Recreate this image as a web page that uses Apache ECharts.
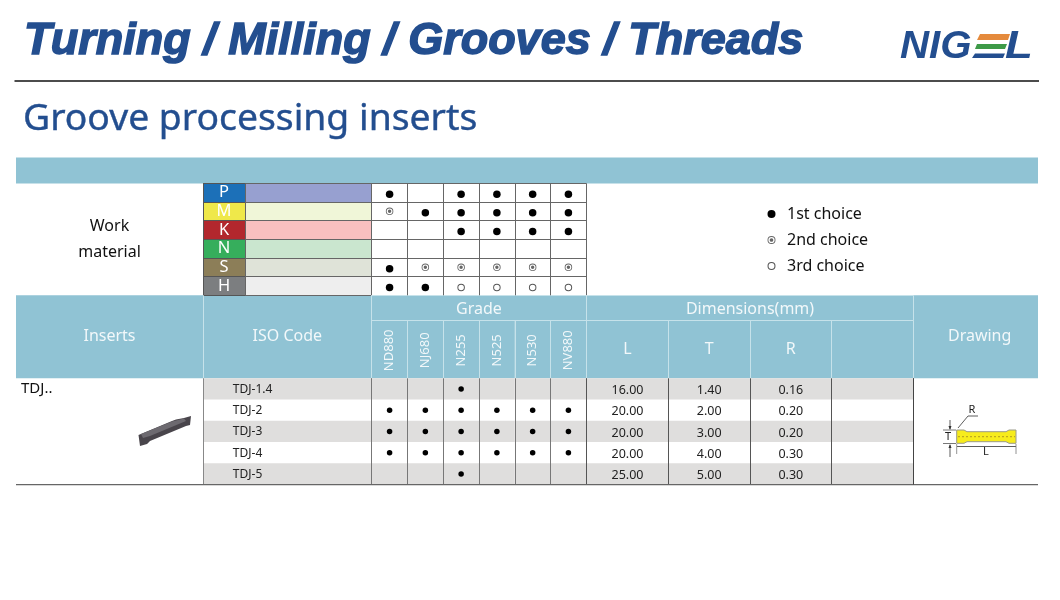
<!DOCTYPE html>
<html>
<head>
<meta charset="UTF-8">
<title>Groove processing inserts</title>
<style>html,body{margin:0;padding:0;background:#fff}#main{width:1060px;height:600px}</style>
<script src="https://cdn.jsdelivr.net/npm/echarts@6/dist/echarts.min.js"></script>
</head>
<body>
<div id="main"></div>
<script type="text/javascript">
// table contents
var materials = ['P', 'M', 'K', 'N', 'S', 'H'];
var grades = ['ND880', 'NJ680', 'N255', 'N525', 'N530', 'NV880'];
var isoCodes = ['TDJ-1.4', 'TDJ-2', 'TDJ-3', 'TDJ-4', 'TDJ-5'];
var dimHeads = ['L', 'T', 'R', ' '];
var choiceNames = ['1st choice', '2nd choice', '3rd choice'];
// choice per material row and grade column: 0 none, 1 first, 2 second, 3 third
var materialP = [1, 0, 1, 1, 1, 1];
var materialM = [2, 1, 1, 1, 1, 1];
var materialK = [0, 0, 1, 1, 1, 1];
var materialN = [0, 0, 0, 0, 0, 0];
var materialS = [1, 2, 2, 2, 2, 2];
var materialH = [1, 1, 3, 3, 3, 3];
// stock per insert row and grade column
var stock14 = [0, 0, 1, 0, 0, 0];
var stock2 = [1, 1, 1, 1, 1, 1];
var stock3 = [1, 1, 1, 1, 1, 1];
var stock4 = [1, 1, 1, 1, 1, 1];
var stock5 = [0, 0, 1, 0, 0, 0];
var dimL = [16, 20, 20, 20, 25];
var dimT = [1.4, 2, 3, 4, 5];
var dimR = [0.16, 0.2, 0.2, 0.3, 0.3];

var materialRows = [materialP, materialM, materialK, materialN, materialS, materialH];
var stockRows = [stock14, stock2, stock3, stock4, stock5];

var FONT = '"Noto Sans", "Open Sans", sans-serif';
var TEAL = '#90c3d4';
var HEAD_LINE = '#c6e2ea';
var STRIPE = '#dfdedd';
var BLUE = '#234e8f';
var codeColors = ['#1c70b8', '#efe84a', '#b2272d', '#36ae5c', '#8c7e58', '#7c7e80'];
var tintColors = ['#97a0d0', '#f0f6d8', '#f9c0c0', '#cae6cf', '#dfe3d8', '#eeeeee'];

var RING2 = 'path://M0,-10A10,10 0 1,1 0,10A10,10 0 1,1 0,-10ZM0,-7.8A7.8,7.8 0 1,0 0,7.8A7.8,7.8 0 1,0 0,-7.8ZM0,-4.6A4.6,4.6 0 1,1 0,4.6A4.6,4.6 0 1,1 0,-4.6Z';
var RING3 = 'path://M0,-10A10,10 0 1,1 0,10A10,10 0 1,1 0,-10ZM0,-7.4A7.4,7.4 0 1,0 0,7.4A7.4,7.4 0 1,0 0,-7.4Z';

var grids = [], xAxes = [], yAxes = [], series = [];

// one grid with band axes, its split lines are the table rules
function addTable(left, right, top, bottom, cols, rows, xLine, yLine) {
    var i = grids.length;
    grids.push({left: left, top: top, width: right - left, height: bottom - top, containLabel: false});
    xAxes.push({
        type: 'category', gridIndex: i, data: cols, z: 5,
        axisLine: {show: false}, axisTick: {show: false}, axisLabel: {show: false},
        splitLine: {show: !!xLine, interval: 0, lineStyle: {color: xLine || '#000', width: 1}}
    });
    yAxes.push({
        type: 'category', gridIndex: i, data: rows, inverse: true, z: 5,
        axisLine: {show: false}, axisTick: {show: false}, axisLabel: {show: false},
        splitLine: {show: !!yLine, interval: 0, lineStyle: {color: yLine || '#000', width: 1}}
    });
    return i;
}

// cells: [col, row, text, fill]
function addCells(g, cells, o) {
    o = o || {};
    series.push({
        type: 'custom', xAxisIndex: g, yAxisIndex: g, z: 2, clip: false, silent: true,
        data: cells.map(function (c) { return [c[0], c[1]]; }),
        renderItem: function (params, api) {
            var c = cells[params.dataIndex];
            var p = api.coord([c[0], c[1]]);
            var s = api.size([1, 1]);
            var kids = [];
            if (c[3]) {
                kids.push({type: 'rect', shape: {x: p[0] - s[0] / 2, y: p[1] - s[1] / 2, width: s[0], height: s[1]}, style: {fill: c[3]}});
            }
            if (c[2]) {
                kids.push({
                    type: 'text', x: p[0] + (o.dx || 0), y: p[1] + (o.dy || 0), rotation: o.rotate || 0,
                    style: {
                        text: c[2], fill: o.color || '#222', font: (o.weight || 'normal') + ' ' + (o.size || 13) + 'px ' + FONT,
                        align: o.align || 'center', verticalAlign: 'middle', lineHeight: o.lineHeight || undefined
                    }
                });
            }
            return {type: 'group', children: kids};
        }
    });
}

function addMarks(g, name, points, symbol, size, color, dy) {
    series.push({
        name: name, type: 'scatter', xAxisIndex: g, yAxisIndex: g, z: 6, silent: true,
        symbol: symbol, symbolSize: size, symbolOffset: [0, dy || 0],
        itemStyle: {color: color, opacity: 1},
        data: points
    });
}

function choicePoints(rows, value) {
    var pts = [];
    rows.forEach(function (r, y) {
        r.forEach(function (v, x) { if (v === value) pts.push([x, y]); });
    });
    return pts;
}

// blue band above the table
var gBand = addTable(16, 1038, 157.5, 183.5, [''], ['']);
addCells(gBand, [[0, 0, '', TEAL]]);

// work material block
var gWork = addTable(16, 203, 183.5, 295.3, ['work'], ['work']);
addCells(gWork, [[0, 0, 'Work\nmaterial', null]], {size: 16, color: '#111', lineHeight: 26});

var gCode = addTable(203, 245, 183.3, 295.3, ['code'], materials, '#555', '#555');
addCells(gCode, materials.map(function (m, i) { return [0, i, m, codeColors[i]]; }), {size: 16.5, color: '#fff'});

var gTint = addTable(245, 371.7, 183.3, 295.3, ['tint'], materials, '#666', '#666');
addCells(gTint, materials.map(function (m, i) { return [0, i, '', tintColors[i]]; }));

var gMat = addTable(371.7, 586.3, 183.3, 295.3, grades, materials, '#666', '#666');
addMarks(gMat, choiceNames[0], choicePoints(materialRows, 1), 'circle', 7.5, '#000', 1.5);
addMarks(gMat, choiceNames[1], choicePoints(materialRows, 2), RING2, 7.5, '#666', 0);
addMarks(gMat, choiceNames[2], choicePoints(materialRows, 3), RING3, 7.5, '#555', 1.5);

// header row
var gH1 = addTable(16, 203, 295.3, 378.3, ['Inserts'], ['h']);
addCells(gH1, [[0, 0, 'Inserts', TEAL]], {size: 16, color: '#f2f8fa'});
var gH2 = addTable(203, 371.7, 295.3, 378.3, ['ISO Code'], ['h'], HEAD_LINE);
addCells(gH2, [[0, 0, 'ISO Code', TEAL]], {size: 16, color: '#f2f8fa'});
var gH3 = addTable(371.7, 586.3, 295.3, 320.3, ['Grade'], ['h'], HEAD_LINE, HEAD_LINE);
addCells(gH3, [[0, 0, 'Grade', TEAL]], {size: 16, color: '#f2f8fa', dy: 1.5});
var gH4 = addTable(371.7, 586.3, 320.3, 378.3, grades, ['h'], HEAD_LINE);
addCells(gH4, grades.map(function (g, i) { return [i, 0, g, TEAL]; }), {size: 13, color: '#f2f8fa', rotate: Math.PI / 2, dy: 1});
var gH5 = addTable(586.7, 913.3, 295.3, 320.3, ['Dimensions(mm)'], ['h'], HEAD_LINE, HEAD_LINE);
addCells(gH5, [[0, 0, 'Dimensions(mm)', TEAL]], {size: 16, color: '#f2f8fa', dy: 1.5});
var gH6 = addTable(586.7, 913.3, 320.3, 378.3, dimHeads, ['h'], HEAD_LINE);
addCells(gH6, dimHeads.map(function (d, i) { return [i, 0, d, TEAL]; }), {size: 16, color: '#f2f8fa'});
var gH7 = addTable(913.3, 1038, 295.3, 378.3, ['Drawing'], ['h']);
addCells(gH7, [[0, 0, 'Drawing', TEAL]], {size: 16, color: '#f2f8fa', dx: 4, dy: 0});

// body rows
function stripes(cols) {
    var out = [];
    for (var y = 0; y < isoCodes.length; y++) {
        for (var x = 0; x < cols; x++) out.push([x, y, '', y % 2 === 0 ? STRIPE : null]);
    }
    return out;
}
function fmt(v) { return v.toFixed(2); }

var gIso = addTable(203, 371.7, 378.3, 484.6, ['iso'], isoCodes, '#888');
addCells(gIso, isoCodes.map(function (c, i) { return [0, i, c, i % 2 === 0 ? STRIPE : null]; }), {size: 12, color: '#222', dx: -54.5, dy: 0.5, align: 'left'});

var gGrade = addTable(371.7, 586.3, 378.3, 484.6, grades, isoCodes, '#777');
addCells(gGrade, stripes(grades.length));
addMarks(gGrade, 'Stock', choicePoints(stockRows, 1), 'circle', 5.5, '#000', 0);

var gDim = addTable(586.7, 913.3, 378.3, 484.6, dimHeads, isoCodes, '#555');
var dimCells = [];
isoCodes.forEach(function (c, y) {
    var fill = y % 2 === 0 ? STRIPE : null;
    dimCells.push([0, y, fmt(dimL[y]), fill], [1, y, fmt(dimT[y]), fill], [2, y, fmt(dimR[y]), fill], [3, y, '', fill]);
});
addCells(gDim, dimCells, {size: 12.5, color: '#222', dy: 1.5});

var rule = function (x1, y1, x2, y2, color, w) {
    return {type: 'line', z: 8, silent: true, shape: {x1: x1, y1: y1, x2: x2, y2: y2}, style: {stroke: color, lineWidth: w || 1}};
};
var label = function (txt, x, y, size, color, extra) {
    var el = {
        type: 'text', z: 8, silent: true, x: x, y: y,
        style: {text: txt, fill: color, font: (extra && extra.font) || (size + 'px ' + FONT), align: (extra && extra.align) || 'center', verticalAlign: 'middle'}
    };
    if (extra && extra.scaleX) el.scaleX = extra.scaleX;
    return el;
};
var poly = function (pts, fill, stroke) {
    return {type: 'polygon', z: 8, silent: true, shape: {points: pts}, style: {fill: fill, stroke: stroke || null, lineWidth: 1}};
};

var LOGO_FONT = 'italic bold 38px "Liberation Sans", sans-serif';
var graphics = [
    rule(14.5, 81, 1039, 81, '#111', 1.6),
    rule(16, 484.6, 1038, 484.6, '#666', 1.2),
    // logo
    label('NIG', 900, 48, 38, BLUE, {font: LOGO_FONT, align: 'left', scaleX: 1.06}),
    label('L', 1005, 48, 38, BLUE, {font: LOGO_FONT, align: 'left', scaleX: 1.2}),
    poly([[980, 34], [1010, 34], [1008, 40], [977, 40]], '#e58a3c'),
    poly([[977, 44], [1007, 44], [1005, 49], [975, 49]], '#3d9a48'),
    poly([[975, 53.5], [1005, 53.5], [1003, 58], [972, 58]], BLUE),
    // insert
    label('TDJ..', 21, 389, 15, '#111', {align: 'left'}),
    poly([[138.5, 435], [172, 421], [176, 419.5], [184, 418], [191, 416], [190, 425], [186, 426], [150, 441], [147, 444], [140, 446]], '#49454b'),
    poly([[141, 434], [172, 421.5], [184, 418.5], [186, 421], [150, 436], [143, 438]], '#6d6a70'),
    // drawing
    poly([[956.7, 430], [964, 430], [967, 431.7], [1006, 431.7], [1009, 430], [1016, 430], [1016, 443.3], [1009, 443.3], [1006, 441.7], [967, 441.7], [964, 443.3], [956.7, 443.3]], '#f7ec1c', '#9a9a8a'),
    {type: 'line', z: 8, silent: true, shape: {x1: 958, y1: 436.7, x2: 1015, y2: 436.7}, style: {stroke: '#b09a20', lineWidth: 1, lineDash: [2, 2]}},
    label('R', 972, 409.5, 11, '#222'),
    {type: 'polyline', z: 8, silent: true, shape: {points: [[958, 428], [968, 416], [978, 416]]}, style: {stroke: '#333', fill: null, lineWidth: 0.8}},
    label('T', 948, 436.7, 11, '#222'),
    rule(943, 430, 956, 430, '#555', 0.8),
    rule(943, 443.5, 956, 443.5, '#555', 0.8),
    rule(950, 420, 950, 429, '#333', 0.8),
    rule(950, 445, 950, 457, '#333', 0.8),
    poly([[950, 430], [948.5, 426], [951.5, 426]], '#333'),
    poly([[950, 444], [948.5, 448], [951.5, 448]], '#333'),
    label('L', 986, 452, 11, '#222'),
    rule(957, 446.5, 1016, 446.5, '#333', 0.8),
    rule(956.7, 444, 956.7, 454, '#777', 0.8),
    rule(1016, 444, 1016, 454, '#777', 0.8),
    rule(913.5, 378.3, 913.5, 484.6, '#444', 1)
];

var option = {
    animation: false,
    backgroundColor: '#fff',
    title: [
        {text: 'Turning / Milling / Grooves / Threads', left: 19, top: 14,
            textStyle: {color: BLUE, fontSize: 45, fontWeight: 'bold', fontStyle: 'italic', fontFamily: '"Liberation Sans", sans-serif', textBorderColor: BLUE, textBorderWidth: 1.5}},
        {text: 'Groove processing inserts', left: 18, top: 96,
            textStyle: {color: BLUE, fontSize: 37.3, fontWeight: 'normal', fontFamily: FONT, textBorderColor: BLUE, textBorderWidth: 0.4}}
    ],
    legend: {
        orient: 'vertical', left: 762.5, top: 201, itemWidth: 8, itemHeight: 8, itemGap: 10, selectedMode: false,
        data: [
            {name: choiceNames[0], icon: 'circle'},
            {name: choiceNames[1], icon: RING2},
            {name: choiceNames[2], icon: RING3}
        ],
        textStyle: {color: '#111', fontSize: 16, fontFamily: FONT, padding: [0, 0, 0, 6.5]}
    },
    grid: grids,
    xAxis: xAxes,
    yAxis: yAxes,
    series: series,
    graphic: {elements: graphics}
};

var myChart = echarts.init(document.getElementById('main'));
myChart.setOption(option);
</script>
</body>
</html>
